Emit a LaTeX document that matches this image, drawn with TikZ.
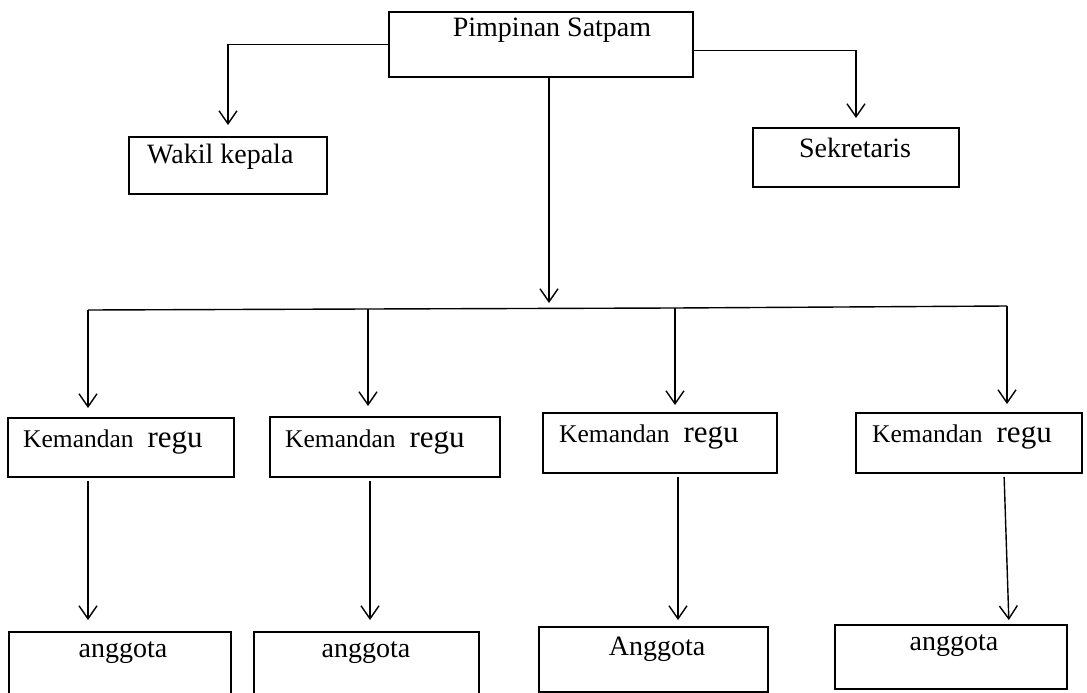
\documentclass[tikz,border=0pt]{standalone}
\usepackage{fontspec}
\setmainfont{Liberation Serif}
\usetikzlibrary{arrows.meta}
\begin{document}
\begin{tikzpicture}[x=1pt,y=-1pt,
  box/.style={draw, line width=1.6pt, inner sep=0pt, outer sep=0pt},
  txt/.style={inner sep=0pt, font=\fontsize{28}{32}\selectfont},
  ln/.style={line width=1.4pt},
  arr/.style={line width=1.4pt, -{Straight Barb[length=13pt,width=18pt]}}]
\path[use as bounding box] (0,0) rectangle (1087,693);
\clip (0,0) rectangle (1087,693);
% boxes
\node[box, minimum width=304pt, minimum height=65pt] (P) at (541,44.5) {};
\node[box, minimum width=198pt, minimum height=57pt] (W) at (228,165.5) {};
\node[box, minimum width=206pt, minimum height=59pt] (S) at (856,157.5) {};
\node[box, minimum width=226pt, minimum height=59pt] (K1) at (121,447.5) {};
\node[box, minimum width=230pt, minimum height=60pt] (K2) at (385,447) {};
\node[box, minimum width=234pt, minimum height=60pt] (K3) at (660,443) {};
\node[box, minimum width=226pt, minimum height=60pt] (K4) at (969,443) {};
\node[box, minimum width=222pt, minimum height=68pt] (A1) at (120,666) {};
\node[box, minimum width=225pt, minimum height=68pt] (A2) at (366.5,666) {};
\node[box, minimum width=229pt, minimum height=65pt] (A3) at (653.5,659.5) {};
\node[box, minimum width=232pt, minimum height=64pt] (A4) at (951,657) {};
% texts
\newcommand{\kr}{{\fontsize{25.5}{30}\selectfont Kemandan}\hspace{14pt}{\fontsize{31}{34}\selectfont regu}}
\node[txt, anchor=base] (tP) at (552,37) {Pimpinan Satpam};
\node[txt, anchor=base west] (tW) at (147,163) {Wakil kepala};
\node[txt, anchor=base] (tS) at (855,157) {Sekretaris};
\node[txt, anchor=base west] (tK1) at (23,447) {\kr};
\node[txt, anchor=base west] (tK2) at (285,447) {\kr};
\node[txt, anchor=base west] (tK3) at (559,442) {\kr};
\node[txt, anchor=base west] (tK4) at (872,442) {\kr};
\node[txt, anchor=base] (tA1) at (123,657) {anggota};
\node[txt, anchor=base] (tA2) at (366,657) {anggota};
\node[txt, anchor=base] (tA3) at (657,655) {Anggota};
\node[txt, anchor=base] (tA4) at (954,650) {anggota};
% coordinates
\coordinate (hub) at (549,308);
\coordinate (d1) at (88,310);
\coordinate (d2) at (368,309);
\coordinate (d3) at (675,308);
\coordinate (d4) at (1007,306);
% top connectors
\draw[arr, shorten >=12pt] (P.west) -| (W.north);
\draw[arr, shorten >=10pt] ([yshift=-6pt]P.east) -| (S.north);
\draw[arr, shorten >=5pt] (P.south -| hub) -- (hub);
\draw[ln] (d1) -- (d2) -- (d3) -- (d4);
% drops to Kemandan regu
\draw[arr, shorten >=10pt] (d1) -- (d1 |- K1.north);
\draw[arr, shorten >=11pt] (d2) -- (d2 |- K2.north);
\draw[arr, shorten >=8pt] (d3) -- (d3 |- K3.north);
\draw[arr, shorten >=9pt] (d4) -- (d4 |- K4.north);
% drops to anggota
\draw[arr, shorten <=4pt, shorten >=12pt] (K1.south -| d1) -- (A1.north -| d1);
\draw[arr, shorten <=4pt, shorten >=12pt] ([xshift=-15pt]K2.south) -- ([xshift=3.5pt]A2.north);
\draw[arr, shorten <=4pt, shorten >=7pt] ([xshift=18pt]K3.south) -- ([xshift=24.5pt]A3.north);
\draw[arr, shorten <=4pt, shorten >=5pt] ([xshift=35pt]K4.south) -- ([xshift=58pt]A4.north);
\end{tikzpicture}
\end{document}
